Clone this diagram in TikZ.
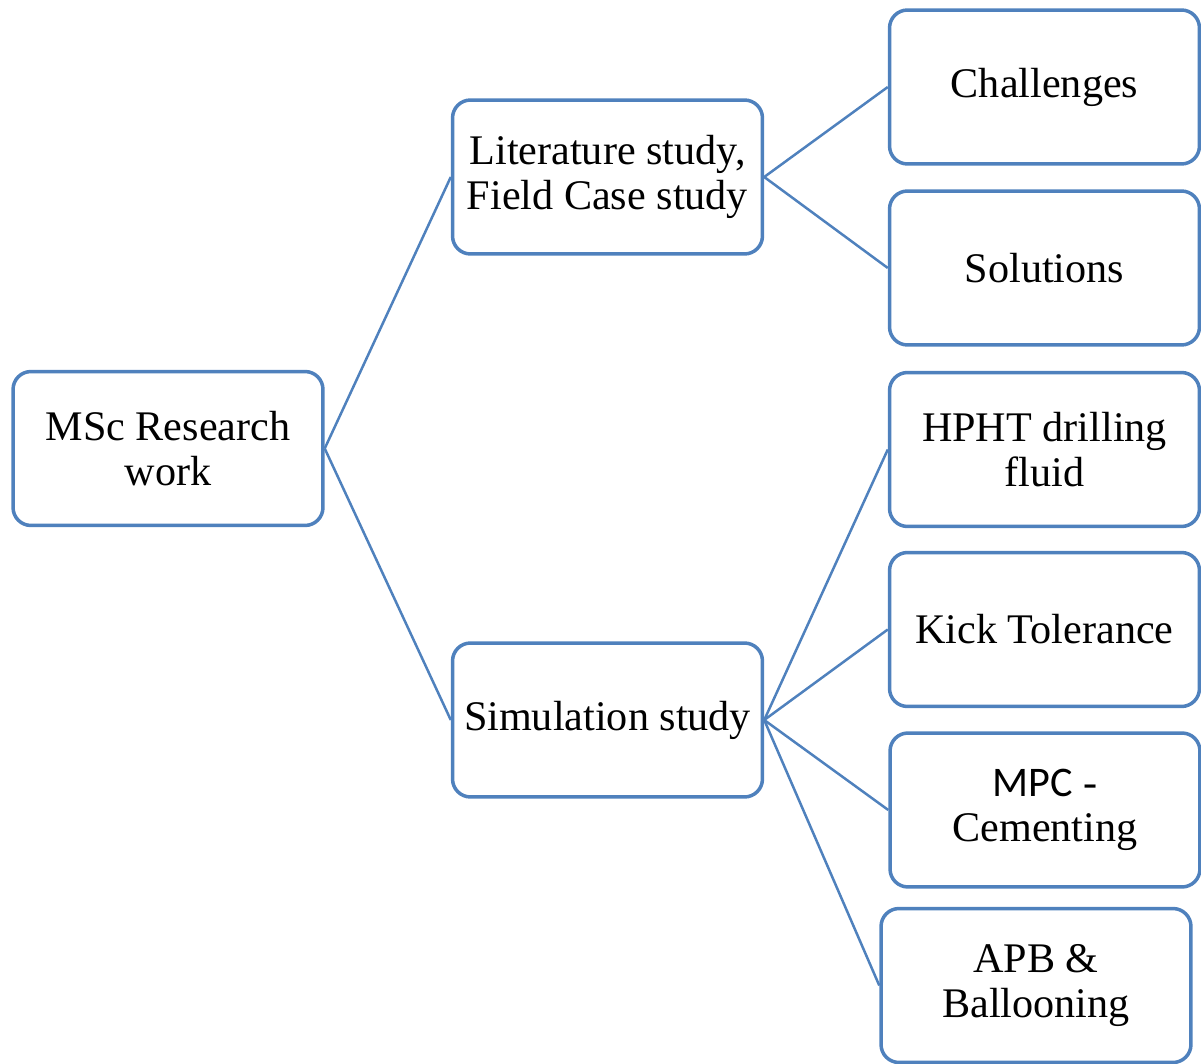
\documentclass[tikz,border=0pt]{standalone}
\usepackage{fontspec}
\setmainfont{Liberation Serif}
\newfontfamily\calibrifont{Carlito}
\usepackage{tikz}
\usetikzlibrary{
  positioning
}
\definecolor{mapblue}{RGB}{79,129,189}
\tikzset{
  mapBox/.style={
    rectangle,
    rounded corners=0.36cm,
    draw=mapblue,
    fill=white,
    line width=0.07cm,
    minimum width=6.2cm,
    minimum height=3.08cm,
    inner sep=0pt,
    align=center,
    font=\fontsize{24}{26}\selectfont
  },
  mapLink/.style={
    draw=mapblue,
    line width=0.05cm
  }
}

\begin{document}
\begin{tikzpicture}[x=0.02cm, y=-0.02cm]
  \useasboundingbox (0,0) rectangle (1201,1064);

  % root and branches
  \node[mapBox] (research) at (168,448.5) {MSc Research\\work};
  \node[mapBox] (literature) at (607.5,177) {Literature study,\\Field Case study};
  \node[mapBox] (simulation) at (607.5,720) {Simulation study};

  % leaves
  \node[mapBox] (challenges) at (1044.5,87) {Challenges};
  \node[mapBox] (solutions) at (1044.5,268) {Solutions};
  \node[mapBox] (hpht) at (1044.5,449.5) {HPHT drilling\\fluid};
  \node[mapBox] (kick) at (1044.5,629.5) {Kick Tolerance};
  \node[mapBox] (mpc) at (1045,810) {{\calibrifont MPC} -\\Cementing};
  \node[mapBox] (apb) at (1036,985.5) {APB \&\\Ballooning};

  \draw[mapLink] (research.east) -- (literature.west);
  \draw[mapLink] (research.east) -- (simulation.west);
  \draw[mapLink] (literature.east) -- (challenges.west);
  \draw[mapLink] (literature.east) -- (solutions.west);
  \draw[mapLink] (simulation.east) -- (hpht.west);
  \draw[mapLink] (simulation.east) -- (kick.west);
  \draw[mapLink] (simulation.east) -- (mpc.west);
  \draw[mapLink] (simulation.east) -- (apb.west);
\end{tikzpicture}
\end{document}
